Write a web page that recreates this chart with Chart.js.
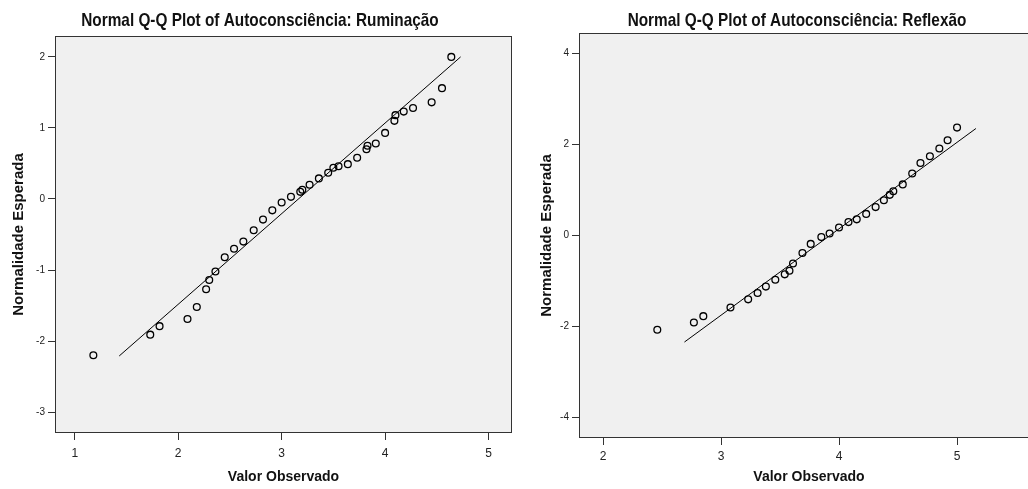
<!DOCTYPE html>
<html>
<head>
<meta charset="utf-8">
<script src="https://cdn.jsdelivr.net/npm/chart.js@4.4.0/dist/chart.umd.min.js"></script>
<style>
  html, body { margin: 0; padding: 0; background: #fff; overflow: hidden; }
  body { width: 1028px; height: 489px; position: relative; }
  .panel { position: absolute; top: 0; height: 489px; }
  #left { left: 0; width: 520px; }
  #right { left: 520px; width: 554px; }
</style>
</head>
<body>
<div class="panel" id="left"><canvas id="qqLeft" width="520" height="489"></canvas></div>
<div class="panel" id="right"><canvas id="qqRight" width="554" height="489"></canvas></div>
<script>
// Autoconsciência: Ruminação — observed value vs expected normal
const rumObserved = [1.18, 1.73, 1.82, 2.09, 2.18, 2.27, 2.30, 2.36, 2.45, 2.54, 2.63, 2.73,
  2.82, 2.91, 3.00, 3.09, 3.18, 3.20, 3.27, 3.36, 3.45, 3.50, 3.55, 3.64, 3.73, 3.82, 3.83,
  3.91, 4.00, 4.09, 4.10, 4.18, 4.27, 4.45, 4.55, 4.64];
const rumExpected = [-2.20, -1.91, -1.79, -1.69, -1.52, -1.27, -1.14, -1.02, -0.82, -0.70, -0.60, -0.44,
  -0.29, -0.16, -0.05, 0.03, 0.10, 0.13, 0.20, 0.29, 0.37, 0.44, 0.46, 0.49, 0.58, 0.70, 0.75,
  0.78, 0.93, 1.10, 1.18, 1.23, 1.28, 1.36, 1.56, 2.00];
const rumLineX = [1.43, 4.73];
const rumLineY = [-2.21, 2.00];
const rumXTicks = [1, 2, 3, 4, 5];
const rumYTicks = [-3, -2, -1, 0, 1, 2];

// Autoconsciência: Reflexão
const refObserved = [2.46, 2.77, 2.85, 3.08, 3.23, 3.31, 3.38, 3.46, 3.54, 3.58, 3.61, 3.69,
  3.76, 3.85, 3.92, 4.00, 4.08, 4.15, 4.23, 4.31, 4.38, 4.43, 4.46, 4.54, 4.62, 4.69, 4.77,
  4.85, 4.92, 5.00];
const refExpected = [-2.08, -1.92, -1.78, -1.59, -1.41, -1.27, -1.13, -0.98, -0.86, -0.78, -0.62, -0.39,
  -0.19, -0.04, 0.04, 0.17, 0.29, 0.35, 0.47, 0.62, 0.77, 0.89, 0.97, 1.12, 1.36, 1.59, 1.74,
  1.91, 2.09, 2.37];
const refLineX = [2.69, 5.16];
const refLineY = [-2.35, 2.35];
const refXTicks = [2, 3, 4, 5];
const refYTicks = [-4, -2, 0, 2, 4];

const FONT = "'Liberation Sans', Arial, sans-serif";
Chart.defaults.font.family = FONT;
Chart.defaults.color = '#222';

// grey plot background, frame and the panel title (title squeezed to a narrow face)
const panelFrame = {
  id: 'panelFrame',
  beforeDraw(chart) {
    const { ctx, chartArea: a } = chart;
    ctx.save();
    ctx.fillStyle = '#f0f0f0';
    ctx.fillRect(a.left, a.top, a.right - a.left, a.bottom - a.top);
    ctx.restore();
  },
  afterDraw(chart, args, opts) {
    const { ctx, chartArea: a } = chart;
    ctx.save();
    ctx.strokeStyle = '#333';
    ctx.lineWidth = 1;
    ctx.strokeRect(a.left - 0.5, a.top - 0.5, a.right - a.left + 1, a.bottom - a.top + 1);
    ctx.fillStyle = '#111';
    ctx.font = 'bold 18.5px ' + FONT;
    ctx.textAlign = 'center';
    ctx.textBaseline = 'middle';
    ctx.translate(chart.width / 2, opts.y);
    ctx.scale(0.83, 1);
    ctx.fillText(opts.text, 0, 0);
    ctx.restore();
  }
};

function axis(min, max, tickValues, cfg) {
  return {
    type: 'linear',
    min, max,
    afterBuildTicks: s => { s.ticks = tickValues.map(v => ({ value: v })); },
    afterFit: s => {
      if (s.isHorizontal()) s.height = cfg.size; else s.width = cfg.size;
    },
    border: { display: false },
    grid: { drawOnChartArea: false, drawTicks: true, tickLength: 8, tickColor: '#333', tickWidth: 1 },
    ticks: { color: '#222', padding: cfg.tickPad, font: { size: cfg.tickSize } },
    title: {
      display: true,
      text: cfg.title,
      color: '#111',
      font: { size: cfg.titleSize, weight: 'bold' },
      padding: cfg.titlePad
    }
  };
}

function qqChart(canvasId, obs, exp, lineX, lineY, o) {
  return new Chart(document.getElementById(canvasId), {
    type: 'scatter',
    data: {
      datasets: [
        {
          data: obs.map((x, i) => ({ x, y: exp[i] })),
          pointStyle: 'circle',
          pointRadius: 3.4,
          borderWidth: 1.3,
          borderColor: '#000',
          backgroundColor: 'rgba(0,0,0,0)'
        },
        {
          data: lineX.map((x, i) => ({ x, y: lineY[i] })),
          showLine: true,
          pointRadius: 0,
          borderColor: '#000',
          borderWidth: 1
        }
      ]
    },
    options: {
      responsive: false,
      animation: false,
      devicePixelRatio: 1,
      layout: { padding: o.padding },
      plugins: {
        legend: { display: false },
        tooltip: { enabled: false },
        panelFrame: { text: o.title, y: 21 }
      },
      scales: {
        x: axis(o.xMin, o.xMax, o.xTicks, { size: o.xSize, tickPad: o.xTickPad, tickSize: 12, title: 'Valor Observado', titleSize: 14, titlePad: { bottom: 3 } }),
        y: axis(o.yMin, o.yMax, o.yTicks, { size: o.ySize, tickPad: 3, tickSize: 10, title: 'Normalidade Esperada', titleSize: 15, titlePad: { top: o.yTitlePad } })
      }
    },
    plugins: [panelFrame]
  });
}

qqChart('qqLeft', rumObserved, rumExpected, rumLineX, rumLineY, {
  title: 'Normal Q-Q Plot of Autoconsciência: Ruminação',
  padding: { top: 37, right: 9, bottom: 0, left: 0 },
  xMin: 0.819, xMax: 5.217, yMin: -3.28, yMax: 2.28,
  xTicks: rumXTicks, yTicks: rumYTicks,
  xSize: 57, ySize: 56, xTickPad: 6, yTitlePad: 10
});

qqChart('qqRight', refObserved, refExpected, refLineX, refLineY, {
  title: 'Normal Q-Q Plot of Autoconsciência: Reflexão',
  padding: { top: 34, right: 36, bottom: 0, left: 0 },
  xMin: 1.805, xMax: 5.686, yMin: -4.44, yMax: 4.43,
  xTicks: refXTicks, yTicks: refYTicks,
  xSize: 52, ySize: 60, xTickPad: 4, yTitlePad: 18
});
</script>
</body>
</html>
